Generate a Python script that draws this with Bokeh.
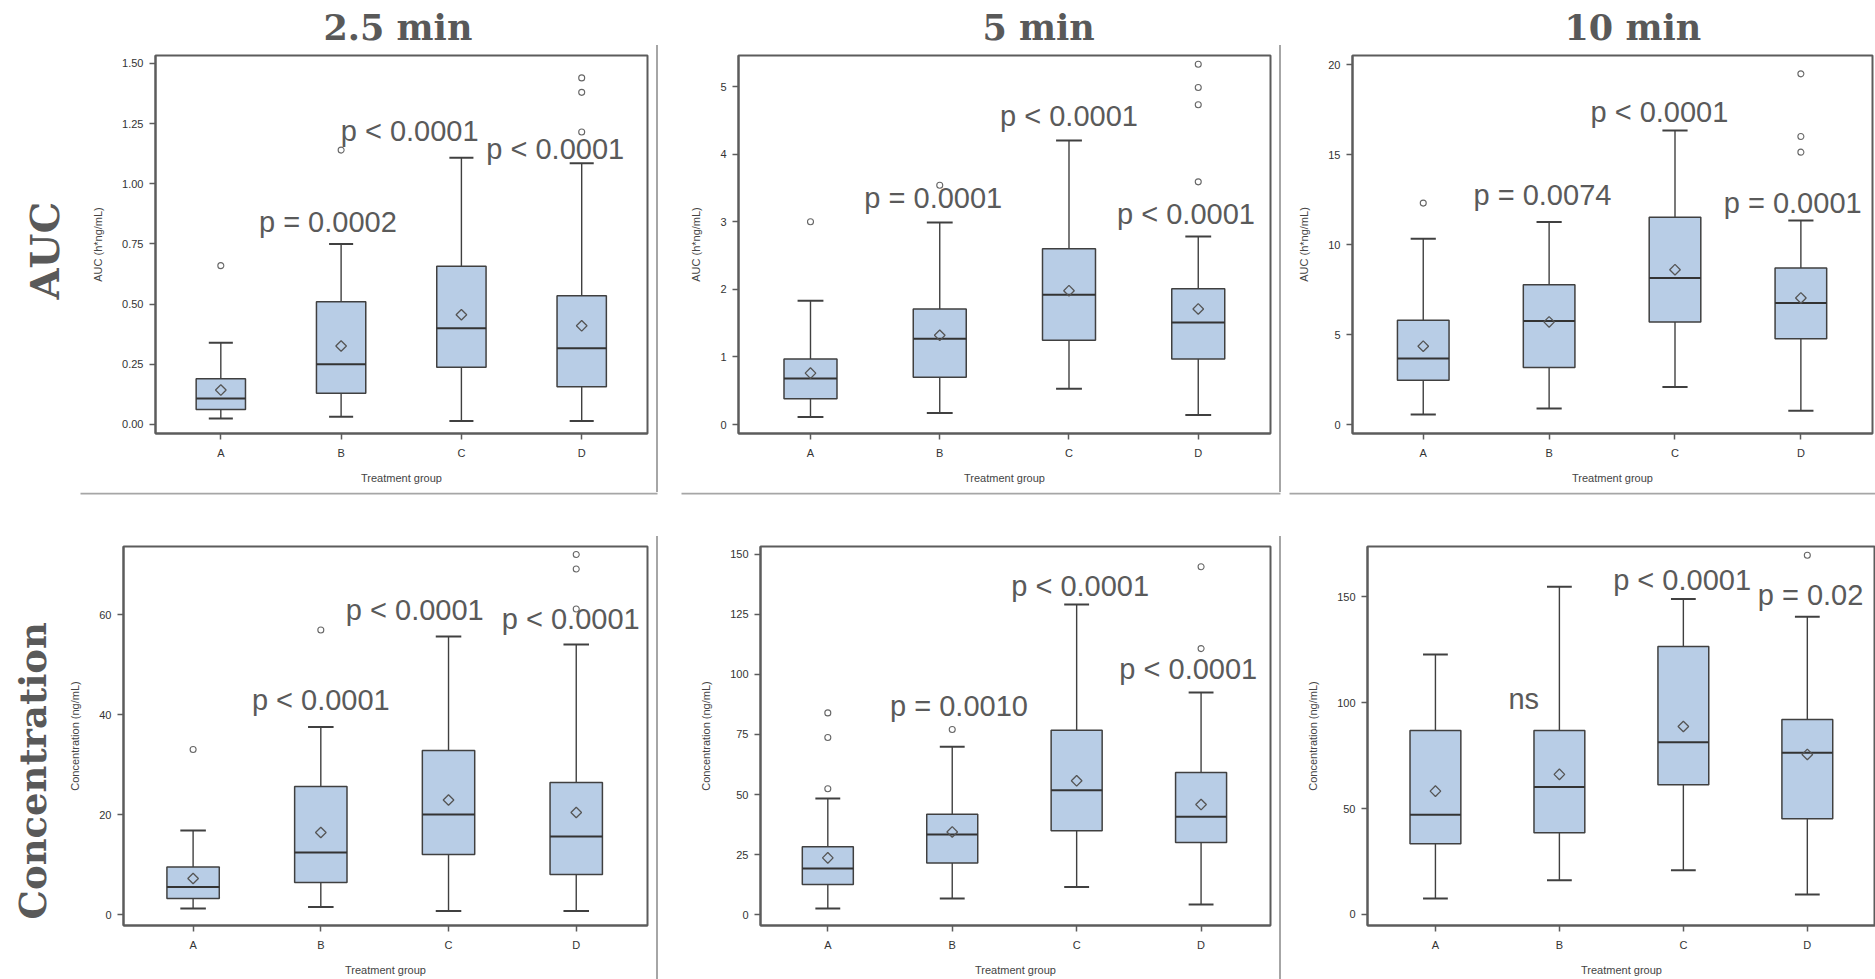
import numpy as np
from bokeh.plotting import figure
from bokeh.models import Range1d, FixedTicker, NumeralTickFormatter, BasicTickFormatter, Label, Div, Spacer, Title
from bokeh.layouts import row, column
from bokeh.embed import file_html
from bokeh.resources import INLINE

# ---------------- data ----------------
groups = ["A", "B", "C", "D"]
time_titles = ["2.5 min", "5 min", "10 min"]
row_titles = ["AUC", "Concentration"]
x_axis_label = "Treatment group"
auc_axis_label = "AUC (h*ng/mL)"
conc_axis_label = "Concentration (ng/mL)"

# AUC, 2.5 min
auc25_low = [0.025, 0.032, 0.015, 0.015]
auc25_q1 = [0.062, 0.130, 0.238, 0.157]
auc25_med = [0.108, 0.250, 0.400, 0.317]
auc25_q3 = [0.190, 0.510, 0.657, 0.535]
auc25_high = [0.340, 0.750, 1.108, 1.085]
auc25_mean = [0.143, 0.326, 0.456, 0.410]
auc25_out_grp = ["A", "B", "D", "D", "D"]
auc25_out_val = [0.66, 1.14, 1.44, 1.38, 1.215]
auc25_ticks = [0, 0.25, 0.5, 0.75, 1.0, 1.25, 1.5]
auc25_p = ["p = 0.0002", "p < 0.0001", "p < 0.0001"]

# AUC, 5 min
auc5_low = [0.11, 0.17, 0.53, 0.14]
auc5_q1 = [0.38, 0.70, 1.245, 0.97]
auc5_med = [0.68, 1.27, 1.92, 1.51]
auc5_q3 = [0.97, 1.71, 2.60, 2.01]
auc5_high = [1.83, 2.99, 4.20, 2.78]
auc5_mean = [0.76, 1.32, 1.98, 1.71]
auc5_out_grp = ["A", "B", "D", "D", "D", "D"]
auc5_out_val = [3.0, 3.54, 5.33, 4.985, 4.73, 3.59]
auc5_ticks = [0, 1, 2, 3, 4, 5]
auc5_p = ["p = 0.0001", "p < 0.0001", "p < 0.0001"]

# AUC, 10 min
auc10_low = [0.55, 0.89, 2.09, 0.76]
auc10_q1 = [2.46, 3.16, 5.70, 4.77]
auc10_med = [3.66, 5.75, 8.14, 6.75]
auc10_q3 = [5.79, 7.77, 11.52, 8.69]
auc10_high = [10.32, 11.25, 16.33, 11.34]
auc10_mean = [4.35, 5.70, 8.60, 7.03]
auc10_out_grp = ["A", "D", "D", "D"]
auc10_out_val = [12.3, 19.48, 16.0, 15.13]
auc10_ticks = [0, 5, 10, 15, 20]
auc10_p = ["p = 0.0074", "p < 0.0001", "p = 0.0001"]

# Concentration, 2.5 min
conc25_low = [1.2, 1.5, 0.7, 0.7]
conc25_q1 = [3.2, 6.4, 12.0, 8.0]
conc25_med = [5.5, 12.4, 20.0, 15.6]
conc25_q3 = [9.5, 25.6, 32.8, 26.4]
conc25_high = [16.8, 37.5, 55.6, 54.0]
conc25_mean = [7.2, 16.4, 22.9, 20.4]
conc25_out_grp = ["A", "B", "D", "D", "D"]
conc25_out_val = [33.0, 56.9, 72.0, 69.1, 61.1]
conc25_ticks = [0, 20, 40, 60]
conc25_p = ["p < 0.0001", "p < 0.0001", "p < 0.0001"]

# Concentration, 5 min
conc5_low = [2.5, 6.7, 11.5, 4.2]
conc5_q1 = [12.5, 21.5, 34.9, 30.0]
conc5_med = [19.2, 33.3, 51.8, 40.7]
conc5_q3 = [28.2, 41.8, 76.8, 59.2]
conc5_high = [48.3, 69.9, 129.2, 92.5]
conc5_mean = [23.6, 34.4, 55.7, 45.8]
conc5_out_grp = ["A", "A", "A", "B", "D", "D"]
conc5_out_val = [84.0, 73.75, 52.4, 77.1, 144.9, 110.8]
conc5_ticks = [0, 25, 50, 75, 100, 125, 150]
conc5_p = ["p = 0.0010", "p < 0.0001", "p < 0.0001"]

# Concentration, 10 min
conc10_low = [7.5, 16.2, 20.9, 9.4]
conc10_q1 = [33.4, 38.6, 61.2, 45.2]
conc10_med = [47.1, 60.1, 81.2, 76.3]
conc10_q3 = [86.8, 86.8, 126.4, 92.0]
conc10_high = [122.6, 154.6, 148.8, 140.5]
conc10_mean = [58.2, 66.1, 88.7, 75.5]
conc10_out_grp = ["D"]
conc10_out_val = [169.5]
conc10_ticks = [0, 50, 100, 150]
conc10_p = ["ns", "p < 0.0001", "p = 0.02"]

# ---------------- layout / style ----------------
BOX_FILL = "#b8cde6"
LINE = "#404040"
FRAME = "#5c5c5c"
SEP = "#a6a6a6"
PTEXT = "#5a5a5a"
HEAD = "#595959"
BOX_W = 0.41
CAP_W = 0.2

# page geometry (page_x, page_y, width, height) and frame (left, right, top, bottom) in page px
GEOM = {
    "auc25": dict(page=(0, 0, 656, 492), frame=(153, 647, 55, 433), xr=(0.457, 4.547), yr=(-0.0374, 1.533)),
    "auc5": dict(page=(658, 0, 621, 492), frame=(738, 1270, 55, 433), xr=(0.443, 4.559), yr=(-0.133, 5.459)),
    "auc10": dict(page=(1281, 0, 594, 492), frame=(1352, 1872, 55, 433), xr=(0.438, 4.569), yr=(-0.5, 20.5)),
    "conc25": dict(page=(0, 536, 656, 443), frame=(123, 647, 546, 925), xr=(0.455, 4.558), yr=(-2.2, 73.6)),
    "conc5": dict(page=(658, 536, 621, 443), frame=(760, 1270, 546, 925), xr=(0.459, 4.558), yr=(-4.58, 153.33)),
    "conc10": dict(page=(1281, 536, 594, 443), frame=(1367, 1875, 546, 925), xr=(0.452, 4.55), yr=(-5.19, 173.6)),
}
# p-value label anchors (x in group units, y = text baseline in data units)
PPOS = {
    "auc25": [(1.89, 0.842), (2.57, 1.220), (3.78, 1.145)],
    "auc5": [(1.95, 3.353), (3.0, 4.558), (3.905, 3.121)],
    "auc10": [(1.947, 12.73), (2.876, 17.35), (3.935, 12.32)],
    "conc25": [(2.0, 42.9), (2.736, 61.0), (3.957, 59.1)],
    "conc5": [(2.054, 87.0), (3.028, 136.7), (3.897, 102.2)],
    "conc10": [(1.712, 101.8), (2.99, 157.6), (4.026, 150.9)],
}
HEAD_OFFSET = [168, 244, 212]
HEAD_STANDOFF = 12
ROW_STYLE = [(134, 40, "40px"), (6, 20, "37px")]
# separator strip between the rows: page y 492..536, horizontal rules at its top
STRIP_H = 44
HRULES = [(80, 657), (681, 1280), (1289, 1875)]


def make_panel(key, low, q1, med, q3, high, mean, out_grp, out_val, ticks, ylabel, ptexts, fmt):
    g = GEOM[key]
    px, py, w, h = g["page"]
    left, right, top, bottom = g["frame"]
    p = figure(width=w, height=h, x_range=Range1d(*g["xr"]), y_range=Range1d(*g["yr"]),
               output_backend="svg", toolbar_location=None,
               min_border_left=left - px, min_border_right=px + w - right,
               min_border_top=top - py, min_border_bottom=py + h - bottom)
    p.xgrid.visible = False
    p.ygrid.visible = False
    p.outline_line_color = FRAME
    p.outline_line_width = 2
    p.background_fill_color = "white"
    p.border_fill_color = "white"

    pos = np.arange(1, len(groups) + 1, dtype=float)
    lo = np.array(low); a = np.array(q1); m = np.array(med); b = np.array(q3); hi = np.array(high)

    p.segment(x0=pos, y0=b, x1=pos, y1=hi, line_color=LINE, line_width=1.4)
    p.segment(x0=pos, y0=a, x1=pos, y1=lo, line_color=LINE, line_width=1.4)
    p.segment(x0=pos - CAP_W / 2, y0=hi, x1=pos + CAP_W / 2, y1=hi, line_color=LINE, line_width=2)
    p.segment(x0=pos - CAP_W / 2, y0=lo, x1=pos + CAP_W / 2, y1=lo, line_color=LINE, line_width=2)
    p.vbar(x=pos, width=BOX_W, bottom=a, top=b, fill_color=BOX_FILL, line_color=LINE, line_width=1.5)
    p.segment(x0=pos - BOX_W / 2, y0=m, x1=pos + BOX_W / 2, y1=m, line_color="#333333", line_width=2)
    p.scatter(x=pos, y=mean, marker="square", angle=np.pi / 4, size=7.5,
              fill_color=None, line_color="#555555", line_width=1.3)
    ox = [groups.index(gg) + 1 for gg in out_grp]
    p.scatter(x=ox, y=out_val, marker="circle", size=6, fill_color=None,
              line_color="#666666", line_width=1.1)

    p.xaxis.ticker = FixedTicker(ticks=list(pos))
    p.xaxis.major_label_overrides = {float(i + 1): gname for i, gname in enumerate(groups)}
    p.yaxis.ticker = FixedTicker(ticks=ticks)
    p.yaxis.formatter = fmt
    for ax in (p.xaxis[0], p.yaxis[0]):
        ax.axis_line_color = FRAME
        ax.axis_line_width = 2
        ax.major_tick_line_color = FRAME
        ax.major_tick_line_width = 1.5
        ax.major_tick_out = 6
        ax.major_tick_in = 0
        ax.minor_tick_line_color = None
        ax.major_label_text_font = "Liberation Sans"
        ax.major_label_text_font_size = "11px"
        ax.major_label_text_color = "#333333"
        ax.axis_label_text_font = "Liberation Sans"
        ax.axis_label_text_font_size = "11px"
        ax.axis_label_text_font_style = "normal"
        ax.axis_label_text_color = "#444444"
    p.xaxis.major_label_standoff = 7
    p.xaxis.axis_label = x_axis_label
    p.xaxis.axis_label_standoff = 10
    p.yaxis.major_label_standoff = 6
    p.yaxis.axis_label = ylabel
    p.yaxis.axis_label_standoff = 15

    for txt, (lx, ly) in zip(ptexts, PPOS[key]):
        p.add_layout(Label(x=lx, y=ly, text=txt, text_align="center", text_baseline="alphabetic",
                           text_font="Liberation Sans", text_font_size="29px", text_color=PTEXT))
    return p


p1 = make_panel("auc25", auc25_low, auc25_q1, auc25_med, auc25_q3, auc25_high, auc25_mean,
                auc25_out_grp, auc25_out_val, auc25_ticks, auc_axis_label, auc25_p,
                NumeralTickFormatter(format="0.00"))
p2 = make_panel("auc5", auc5_low, auc5_q1, auc5_med, auc5_q3, auc5_high, auc5_mean,
                auc5_out_grp, auc5_out_val, auc5_ticks, auc_axis_label, auc5_p, BasicTickFormatter())
p3 = make_panel("auc10", auc10_low, auc10_q1, auc10_med, auc10_q3, auc10_high, auc10_mean,
                auc10_out_grp, auc10_out_val, auc10_ticks, auc_axis_label, auc10_p, BasicTickFormatter())
p4 = make_panel("conc25", conc25_low, conc25_q1, conc25_med, conc25_q3, conc25_high, conc25_mean,
                conc25_out_grp, conc25_out_val, conc25_ticks, conc_axis_label, conc25_p, BasicTickFormatter())
p5 = make_panel("conc5", conc5_low, conc5_q1, conc5_med, conc5_q3, conc5_high, conc5_mean,
                conc5_out_grp, conc5_out_val, conc5_ticks, conc_axis_label, conc5_p, BasicTickFormatter())
p6 = make_panel("conc10", conc10_low, conc10_q1, conc10_med, conc10_q3, conc10_high, conc10_mean,
                conc10_out_grp, conc10_out_val, conc10_ticks, conc_axis_label, conc10_p, BasicTickFormatter())

for fig, txt, off in zip([p1, p2, p3], time_titles, HEAD_OFFSET):
    t = fig.title
    t.text = txt
    t.align = "left"
    t.offset = off
    t.vertical_align = "top"
    t.standoff = HEAD_STANDOFF
    t.text_font = "DejaVu Serif"
    t.text_font_style = "bold"
    t.text_font_size = "35px"
    t.text_color = HEAD

for fig, txt, (off, so, fs) in zip([p1, p4], row_titles, ROW_STYLE):
    fig.add_layout(Title(text=txt, align="left", offset=off, vertical_align="top", standoff=so,
                         text_font="DejaVu Serif", text_font_style="bold", text_font_size=fs,
                         text_color=HEAD), "left")


def vline_div(h):
    return Div(text="", width=2, height=h, margin=0, styles={"background-color": SEP})


def vsep(gap, h):
    if gap > 0:
        return column(Spacer(width=2, height=gap), vline_div(h), spacing=0)
    return vline_div(h)


# strip with the horizontal rules between the two rows
strip = figure(width=1875, height=STRIP_H, toolbar_location=None, output_backend="svg",
               x_range=Range1d(0, 1875), y_range=Range1d(STRIP_H, 0),
               min_border=0, min_border_left=0, min_border_right=0, min_border_top=0, min_border_bottom=0,
               x_axis_type=None, y_axis_type=None, outline_line_color=None,
               background_fill_color="white", border_fill_color="white")
strip.grid.visible = False
strip.segment(x0=[a for a, b in HRULES], x1=[b for a, b in HRULES], y0=[1] * len(HRULES), y1=[1] * len(HRULES),
              line_color=SEP, line_width=2)

top_row = row(p1, vsep(45, 447), p2, vsep(45, 447), p3, spacing=0)
bottom_row = row(p4, vsep(0, 443), p5, vsep(0, 443), p6, spacing=0)
layout = column(top_row, strip, bottom_row, spacing=0)

open("out.html", "w").write(file_html(layout, INLINE))
